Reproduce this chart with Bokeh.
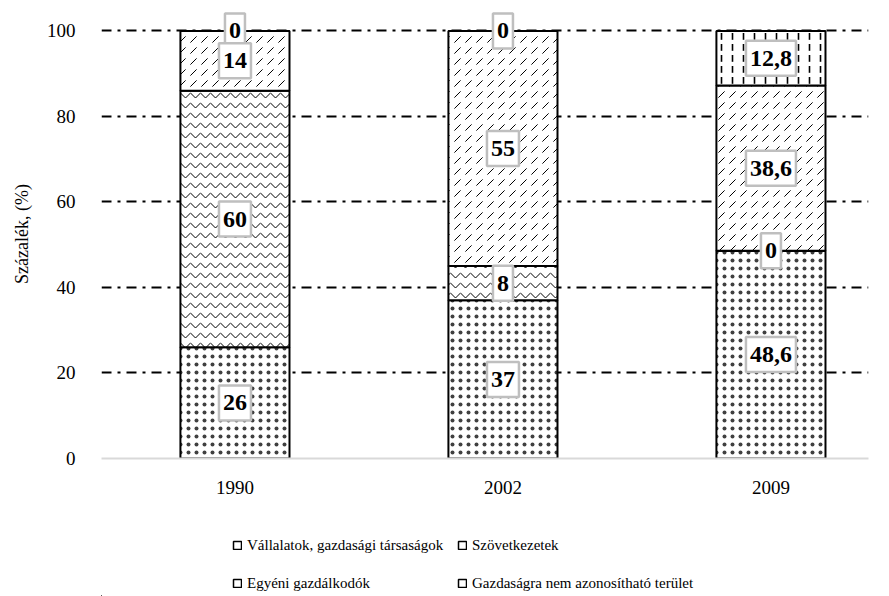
from bokeh.plotting import figure
from bokeh.layouts import column
from bokeh.models import Range1d, FixedTicker, Label, Legend, LegendItem, ColumnDataSource
from bokeh.embed import file_html
from bokeh.resources import INLINE

# ---- data ----
years = ["1990", "2002", "2009"]
series_names = ["Vállalatok, gazdasági társaságok", "Szövetkezetek",
                "Egyéni gazdálkodók", "Gazdaságra nem azonosítható terület"]
vallalatok = [26, 37, 48.6]
szovetkezetek = [60, 8, 0]
egyeni = [14, 55, 38.6]
gazdasagra = [0, 0, 12.8]
y_ticks = [0, 20, 40, 60, 80, 100]
grid_ticks = [20, 40, 60, 80, 100]

series_values = [vallalatok, szovetkezetek, egyeni, gazdasagra]
hatches = [".", "v", ",", ":"]
hatch_scales = [8, 10, 11, 11]
hatch_weights = [0.5, 1.0, 1.0, 1.6]
hatch_alphas = [0.75, 1.0, 1.0, 1.0]

FONT = "Liberation Serif"

p = figure(width=889, height=510, output_backend="svg", toolbar_location=None,
           x_range=Range1d(-0.498, 2.364), y_range=Range1d(0, 105),
           min_border_left=101, min_border_right=21, min_border_top=9,
           min_border_bottom=52)
p.outline_line_color = None
p.background_fill_color = "white"

xs = list(range(len(years)))
bottoms = [0.0] * len(years)
renderers = []
sources = []
label_specs = []
for name, vals, hp, hs, hw, ha in zip(series_names, series_values, hatches,
                                      hatch_scales, hatch_weights, hatch_alphas):
    tops = [b + v for b, v in zip(bottoms, vals)]
    src = ColumnDataSource(dict(x=xs, bottom=bottoms, top=tops))
    sources.append(src)
    r = p.vbar(x="x", bottom="bottom", top="top", width=0.407, source=src,
               fill_color="white", line_color="black", line_width=2,
               hatch_pattern=hp, hatch_scale=hs, hatch_color="black",
               hatch_weight=hw, hatch_alpha=ha)
    renderers.append(r)
    for i, (b, v) in enumerate(zip(bottoms, vals)):
        label_specs.append((i, b + v / 2.0, ("%g" % v).replace(".", ",")))
    bottoms = tops

# labels: draw top series first so lower labels overlap them
for i, y, txt in reversed(label_specs):
    p.add_layout(Label(x=i, y=y, text=txt, anchor="center",
                       text_font=FONT, text_font_style="bold",
                       text_font_size="24px", text_color="black",
                       background_fill_color="white",
                       border_line_color="#BFBFBF", border_line_width=2.5,
                       padding=(4, 10)))

# axes
p.xaxis.ticker = FixedTicker(ticks=xs)
p.xaxis.major_label_overrides = {i: y for i, y in enumerate(years)}
p.xaxis.axis_line_color = "#D9D9D9"
p.xaxis.axis_line_width = 2
p.xaxis.major_tick_line_color = None
p.xaxis.minor_tick_line_color = None
p.xaxis.major_label_standoff = 16
p.xaxis.major_label_text_font = FONT
p.xaxis.major_label_text_font_size = "19px"
p.xaxis.major_label_text_color = "black"

p.yaxis.ticker = FixedTicker(ticks=y_ticks)
p.yaxis.axis_line_color = None
p.yaxis.major_tick_line_color = None
p.yaxis.minor_tick_line_color = None
p.yaxis.major_label_standoff = 20
p.yaxis.major_label_text_font = FONT
p.yaxis.major_label_text_font_size = "19px"
p.yaxis.major_label_text_color = "black"
p.yaxis.axis_label = "Százalék, (%)"
p.yaxis.axis_label_text_font = FONT
p.yaxis.axis_label_text_font_size = "18px"
p.yaxis.axis_label_text_font_style = "normal"
p.yaxis.axis_label_text_color = "black"
p.yaxis.axis_label_standoff = 12

p.xgrid.grid_line_color = None
p.ygrid.ticker = FixedTicker(ticks=grid_ticks)
p.ygrid.grid_line_color = "black"
p.ygrid.grid_line_width = 2
p.ygrid.grid_line_dash = "10 6 3 6"

# ---- legend strip (separate figure so the legend is not clipped) ----
# the series bars are drawn here too, but outside this strip's visible range,
# so only their legend swatches show
pl = figure(width=889, height=86, output_backend="svg", toolbar_location=None,
            x_axis_type=None, y_axis_type=None, min_border=0,
            x_range=Range1d(50, 51), y_range=Range1d(500, 501))
pl.outline_line_color = None
leg_renderers = []
for src in sources:
    leg_renderers.append(pl.vbar(x="x", bottom="bottom", top="top", width=0.4,
                                 source=src, fill_color="white",
                                 line_color="black", line_width=1.5))

legend = Legend(items=[LegendItem(label=n, renderers=[r], index=0)
                       for n, r in zip(series_names, leg_renderers)],
                orientation="horizontal", ncols=2, location=(131, -6),
                border_line_color=None, background_fill_alpha=0,
                label_text_font=FONT, label_text_font_size="15px",
                label_text_color="black",
                glyph_width=10, glyph_height=10, label_standoff=5,
                spacing=0, padding=0, margin=0,
                label_height=38, label_width=210)
pl.add_layout(legend, "center")

layout = column(p, pl, spacing=0)
open("out.html", "w").write(file_html(layout, INLINE))
